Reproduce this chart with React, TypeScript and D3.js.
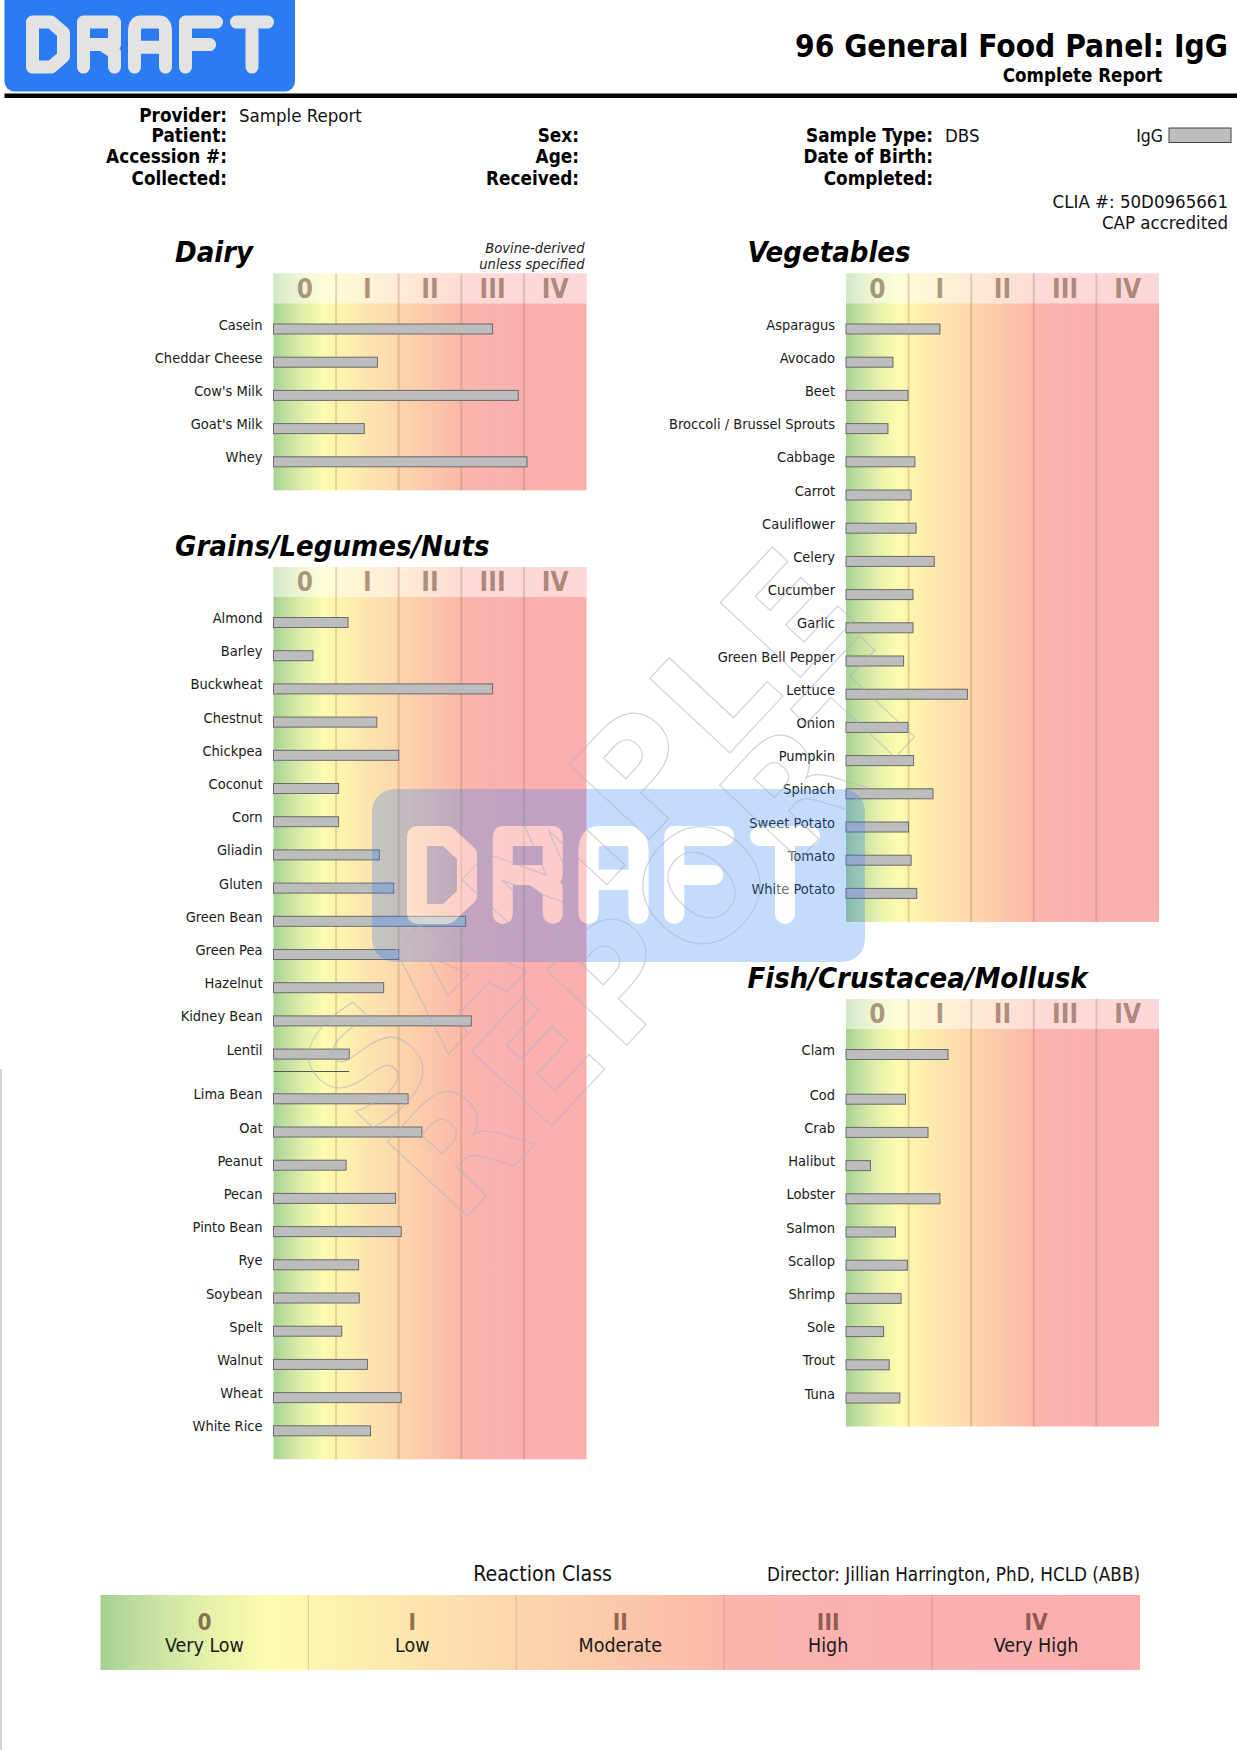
import React from "react";
import * as d3 from "d3";

// ---------------- DATA ----------------
const classLabels = ["0", "I", "II", "III", "IV"];
const classNames = ["Very Low", "Low", "Moderate", "High", "Very High"];

// values are in reaction-class units (0 = start of class 0, 5 = end of class IV)
const dairyFoods = ["Casein", "Cheddar Cheese", "Cow's Milk", "Goat's Milk", "Whey"];
const dairyValues = [3.5, 1.66, 3.91, 1.45, 4.05];

const grainFoods = [
  "Almond", "Barley", "Buckwheat", "Chestnut", "Chickpea", "Coconut", "Corn", "Gliadin",
  "Gluten", "Green Bean", "Green Pea", "Hazelnut", "Kidney Bean", "Lentil", "Lima Bean",
  "Oat", "Peanut", "Pecan", "Pinto Bean", "Rye", "Soybean", "Spelt", "Walnut", "Wheat",
  "White Rice",
];
const grainValues = [
  1.19, 0.63, 3.5, 1.65, 2.0, 1.04, 1.04, 1.69, 1.92, 3.07, 2.0, 1.76, 3.16, 1.21, 2.15,
  2.37, 1.16, 1.95, 2.04, 1.36, 1.37, 1.09, 1.5, 2.04, 1.55,
];

const vegFoods = [
  "Asparagus", "Avocado", "Beet", "Broccoli / Brussel Sprouts", "Cabbage", "Carrot",
  "Cauliflower", "Celery", "Cucumber", "Garlic", "Green Bell Pepper", "Lettuce", "Onion",
  "Pumpkin", "Spinach", "Sweet Potato", "Tomato", "White Potato",
];
const vegValues = [
  1.5, 0.75, 0.99, 0.67, 1.1, 1.04, 1.12, 1.41, 1.07, 1.07, 0.92, 1.94, 0.99, 1.08, 1.39,
  1.0, 1.04, 1.13,
];

const fishFoods = [
  "Clam", "Cod", "Crab", "Halibut", "Lobster", "Salmon", "Scallop", "Shrimp", "Sole",
  "Trout", "Tuna",
];
const fishValues = [1.63, 0.95, 1.31, 0.39, 1.5, 0.79, 0.98, 0.88, 0.6, 0.69, 0.86];

// ---------------- STYLE / LAYOUT ----------------
const COND = "'DejaVu Sans Condensed', 'DejaVu Sans', sans-serif";
const CHART_W = 313;
const HEADER_H = 30;
const FIRST_OFF = 25.5;
const PITCH = 33.2;
const BOTTOM_PAD = 28.5;
const BAR_H = 10;
// the scanned page has a small splice (two scans joined); content below is pushed down
const SPLICE_Y = 1069;
const SPLICE_GAP = 11.5;
const splice = (y: number) => (y >= SPLICE_Y ? y + SPLICE_GAP : y);

const GRAD_STOPS: [number, string][] = [
  [0, "#a2d092"],
  [0.15, "#bcdc9e"],
  [0.5, "#e4f0aa"],
  [0.8, "#fcfbae"],
  [1.0, "#fdf6ae"],
  [1.5, "#fde5ae"],
  [2.0, "#fdd6ac"],
  [2.5, "#fcc7ab"],
  [2.95, "#fbbaa9"],
  [3.05, "#fbb4ae"],
  [4, "#fbb0b0"],
  [5, "#fbaeae"],
];

const GLYPHS: Record<string, string> = {
  D: "M0,0 H0.6 L1,0.24 V0.76 L0.6,1 H0 Z",
  R: "M0,1 V0 H1 V0.5 H0 M0.6,0.5 L1,0.68 V1",
  A: "M0,1 V0.2 Q0,0 0.2,0 H0.8 Q1,0 1,0.2 V1 M0,0.56 H1",
  F: "M1,0 H0 V1 M0,0.5 H0.78",
  T: "M0,0 H1 M0.5,0 V1",
};

function BlockWord({
  word, x0, y0, w, h, gap, sw, color, opacity = 1,
}: {
  word: string; x0: number; y0: number; w: number; h: number; gap: number; sw: number;
  color: string; opacity?: number;
}) {
  return (
    <g opacity={opacity}>
      {word.split("").map((ch, i) => {
        const lx = x0 + i * (w + gap) + sw / 2;
        const ly = y0 + sw / 2;
        return (
          <path
            key={i}
            d={GLYPHS[ch]}
            transform={`translate(${lx},${ly}) scale(${w - sw},${h - sw})`}
            vectorEffect="non-scaling-stroke"
            fill="none"
            stroke={color}
            strokeWidth={sw}
            strokeLinecap="round"
            strokeLinejoin="round"
          />
        );
      })}
    </g>
  );
}

function Panel({
  title, left, headerTop, foods, values, note,
}: {
  title: string; left: number; headerTop: number; foods: string[]; values: number[]; note?: string[];
}) {
  const x = d3.scaleLinear().domain([0, 5]).range([left, left + CHART_W]);
  const rowRaw = d3
    .scaleLinear()
    .domain([0, 1])
    .range([headerTop + HEADER_H + FIRST_OFF, headerTop + HEADER_H + FIRST_OFF + PITCH]);
  const y = (i: number) => splice(rowRaw(i));
  const bottom = splice(rowRaw(foods.length - 1) + BOTTOM_PAD);
  const ticks = d3.range(1, 5);
  return (
    <g>
      <text
        x={left - 98.5}
        y={headerTop - 11.5}
        fontFamily={COND}
        fontWeight="bold"
        fontStyle="italic"
        fontSize={29}
        fill="#000"
      >
        {title}
      </text>
      {note &&
        note.map((t, i) => (
          <text
            key={i}
            x={x(5) - 2}
            y={headerTop - 21 + i * 16.5}
            textAnchor="end"
            fontFamily={COND}
            fontStyle="italic"
            fontSize={14.6}
            fill="#222"
          >
            {t}
          </text>
        ))}
      <rect x={x(0)} y={headerTop} width={x(5) - x(0)} height={bottom - headerTop} fill="url(#classGrad)" />
      <rect x={x(0)} y={headerTop} width={x(5) - x(0)} height={HEADER_H} fill="#fff" opacity={0.5} />
      {ticks.map((t) => (
        <line
          key={t}
          x1={x(t)}
          x2={x(t)}
          y1={headerTop}
          y2={bottom}
          stroke="rgb(150,95,70)"
          strokeOpacity={0.25}
          strokeWidth={2}
        />
      ))}
      {classLabels.map((c, i) => (
        <text
          key={c}
          x={x(i + 0.5)}
          y={headerTop + 24}
          textAnchor="middle"
          fontFamily={COND}
          fontWeight="bold"
          fontSize={26}
          fill="rgb(95,55,35)"
          fillOpacity={0.5}
        >
          {c}
        </text>
      ))}
      {foods.map((f, i) => (
        <g key={f}>
          <text
            x={x(0) - 11}
            y={y(i) + 0.5}
            textAnchor="end"
            fontFamily={COND}
            fontSize={14.5}
            fill="#1a1a1a"
          >
            {f}
          </text>
          <rect
            x={x(0)}
            y={y(i) - BAR_H / 2}
            width={x(values[i]) - x(0)}
            height={BAR_H}
            fill="#bdbdbd"
            stroke="#6a6a6a"
            strokeWidth={1}
          />
        </g>
      ))}
      {/* scan artifact: duplicated bottom edge of the bar just above the splice */}
      {foods.map((f, i) =>
        rowRaw(i) < SPLICE_Y && rowRaw(i + 1) >= SPLICE_Y && rowRaw(i) + BAR_H / 2 > SPLICE_Y - 14 && left < 400 ? (
          <line
            key={"a" + f}
            x1={x(0)}
            x2={x(values[i])}
            y1={SPLICE_Y + 2.5}
            y2={SPLICE_Y + 2.5}
            stroke="#555"
            strokeWidth={1}
          />
        ) : null
      )}
    </g>
  );
}

function InfoRow({ label, value, rx, y }: { label: string; value?: string; rx: number; y: number }) {
  return (
    <g>
      <text x={rx} y={y} textAnchor="end" fontFamily={COND} fontWeight="bold" fontSize={18.8} fill="#000">
        {label}
      </text>
      {value && (
        <text x={rx + 12} y={y} fontFamily={COND} fontSize={18.5} fill="#111">
          {value}
        </text>
      )}
    </g>
  );
}

export default function App() {
  const lx = d3.scaleLinear().domain([0, 5]).range([100.5, 1140]);
  const rowsY = [121.5, 142, 163, 184.5];
  return (
    <svg
      width={1237}
      height={1750}
      viewBox="0 0 1237 1750"
      style={{ position: "absolute", left: 0, top: 0, display: "block" }}
    >
      <defs>
        <linearGradient id="classGrad" x1="0" x2="1" y1="0" y2="0">
          {GRAD_STOPS.map(([v, c], i) => (
            <stop key={i} offset={v / 5} stopColor={c} />
          ))}
        </linearGradient>
        <mask id="wmMask" maskUnits="userSpaceOnUse" x="0" y="0" width="1237" height="1750">
          <rect x={372} y={789} width={493} height={173} rx={22} fill="#fff" />
          <BlockWord word="DRAFT" x0={407} y0={826} w={70} h={98} gap={15.75} sw={20} color="#000" />
        </mask>
      </defs>
      <rect x={0} y={0} width={1237} height={1750} fill="#fff" />

      {/* Header */}
      <rect x={4.5} y={-12} width={290.5} height={103.5} rx={10} fill="#2b7bf3" />
      <BlockWord word="DRAFT" x0={26} y0={15.6} w={44} h={58} gap={7} sw={13} color="#e3e3e3" />
      <text x={1228} y={57} textAnchor="end" fontFamily={COND} fontWeight="bold" fontSize={31.4} fill="#000">
        96 General Food Panel: IgG
      </text>
      <text x={1082.5} y={82} textAnchor="middle" fontFamily={COND} fontWeight="bold" fontSize={18.6} fill="#000">
        Complete Report
      </text>
      <rect x={4.5} y={93.5} width={1232.5} height={4.5} fill="#000" />

      <InfoRow label="Provider:" value="Sample Report" rx={227} y={rowsY[0]} />
      <InfoRow label="Patient:" rx={227} y={rowsY[1]} />
      <InfoRow label="Accession #:" rx={227} y={rowsY[2]} />
      <InfoRow label="Collected:" rx={227} y={rowsY[3]} />
      <InfoRow label="Sex:" rx={579} y={rowsY[1]} />
      <InfoRow label="Age:" rx={579} y={rowsY[2]} />
      <InfoRow label="Received:" rx={579} y={rowsY[3]} />
      <InfoRow label="Sample Type:" value="DBS" rx={933} y={rowsY[1]} />
      <InfoRow label="Date of Birth:" rx={933} y={rowsY[2]} />
      <InfoRow label="Completed:" rx={933} y={rowsY[3]} />
      <text x={1163} y={rowsY[1]} textAnchor="end" fontFamily={COND} fontSize={17.5} fill="#111">
        IgG
      </text>
      <rect x={1169} y={128} width={62} height={14.5} fill="#bdbdbd" stroke="#444" strokeWidth={1} />
      <text x={1228} y={207.5} textAnchor="end" fontFamily={COND} fontSize={18.5} fill="#111">
        CLIA #: 50D0965661
      </text>
      <text x={1228} y={228.5} textAnchor="end" fontFamily={COND} fontSize={18.5} fill="#111">
        CAP accredited
      </text>

      {/* Panels */}
      <Panel
        title="Dairy"
        left={273.5}
        headerTop={273.5}
        foods={dairyFoods}
        values={dairyValues}
        note={["Bovine-derived", "unless specified"]}
      />
      <Panel title="Grains/Legumes/Nuts" left={273.5} headerTop={567} foods={grainFoods} values={grainValues} />
      <Panel title="Vegetables" left={846} headerTop={273.5} foods={vegFoods} values={vegValues} />
      <Panel title="Fish/Crustacea/Mollusk" left={846} headerTop={999} foods={fishFoods} values={fishValues} />

      {/* Watermark */}
      <rect
        x={372}
        y={789}
        width={493}
        height={173}
        rx={22}
        fill="rgb(45,125,245)"
        opacity={0.27}
        mask="url(#wmMask)"
      />
      <BlockWord word="DRAFT" x0={407} y0={826} w={70} h={98} gap={15.75} sw={20} color="#fff" opacity={0.35} />
      <g transform="translate(625,880) rotate(-47)" fill="none" stroke="#aeb0c4" strokeOpacity={0.55} strokeWidth={1.3}>
        <text x={0} y={-62} textAnchor="middle" dominantBaseline="central" fontFamily="'DejaVu Sans', sans-serif" fontWeight="bold" fontSize={150} letterSpacing={8}>
          SAMPLE
        </text>
        <text x={-10} y={62} textAnchor="middle" dominantBaseline="central" fontFamily="'DejaVu Sans', sans-serif" fontWeight="bold" fontSize={150} letterSpacing={8}>
          REPORT
        </text>
      </g>
      {/* page edge below the splice */}
      <line x1={1} x2={1} y1={SPLICE_Y} y2={1750} stroke="#c8c8c8" strokeWidth={1.5} />

      {/* Legend */}
      <text x={542.6} y={1581} textAnchor="middle" fontFamily={COND} fontSize={21.2} fill="#111">
        Reaction Class
      </text>
      <text x={1140} y={1581} textAnchor="end" fontFamily={COND} fontSize={18.7} fill="#111">
        Director: Jillian Harrington, PhD, HCLD (ABB)
      </text>
      <rect x={lx(0)} y={1595} width={lx(5) - lx(0)} height={75} fill="url(#classGrad)" />
      {d3.range(1, 5).map((t) => (
        <line key={t} x1={lx(t)} x2={lx(t)} y1={1595} y2={1670} stroke="rgb(150,95,70)" strokeOpacity={0.25} strokeWidth={1.2} />
      ))}
      {classLabels.map((c, i) => (
        <g key={c}>
          <text
            x={lx(i + 0.5)}
            y={1629.5}
            textAnchor="middle"
            fontFamily={COND}
            fontWeight="bold"
            fontSize={22.5}
            fill="rgb(90,48,30)"
            fillOpacity={0.68}
          >
            {c}
          </text>
          <text x={lx(i + 0.5)} y={1652} textAnchor="middle" fontFamily={COND} fontSize={19.5} fill="#1a1a1a">
            {classNames[i]}
          </text>
        </g>
      ))}
    </svg>
  );
}
